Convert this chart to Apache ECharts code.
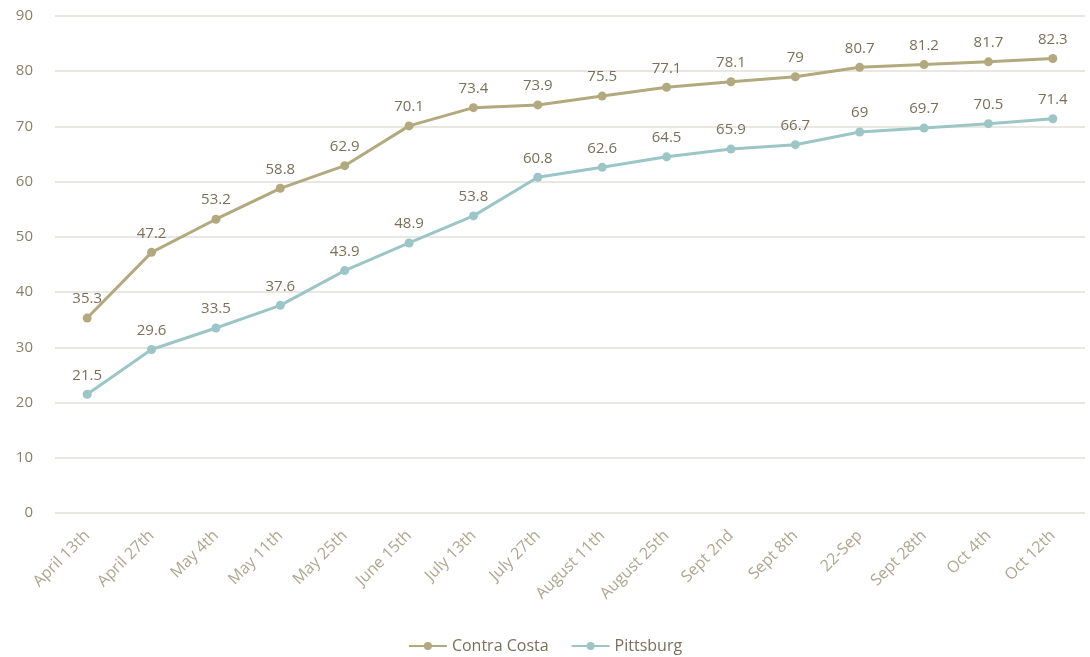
<!DOCTYPE html>
<html><head><meta charset="utf-8">
<script src="https://cdn.jsdelivr.net/npm/echarts@6/dist/echarts.min.js"></script>
<style>html,body{margin:0;padding:0;background:#fff}#c{width:1090px;height:657px}</style>
</head><body><div id="c"></div>
<script>
const categories = ["April 13th","April 27th","May 4th","May 11th","May 25th","June 15th","July 13th","July 27th","August 11th","August 25th","Sept 2nd","Sept 8th","22-Sep","Sept 28th","Oct 4th","Oct 12th"];
const contraCosta = [35.3,47.2,53.2,58.8,62.9,70.1,73.4,73.9,75.5,77.1,78.1,79,80.7,81.2,81.7,82.3];
const pittsburg = [21.5,29.6,33.5,37.6,43.9,48.9,53.8,60.8,62.6,64.5,65.9,66.7,69,69.7,70.5,71.4];
const yTicks = {min:0,max:90,interval:10};
const FONT = '"Open Sans", sans-serif';
const chart = echarts.init(document.getElementById('c'));
const lbl = {show:true,position:'top',distance:7,color:'#7a705a',fontSize:15,fontFamily:FONT};
chart.setOption({
  animation:false,
  grid:{left:55,right:5,top:16,bottom:144,containLabel:false},
  legend:{bottom:-2,left:'center',itemWidth:38,itemHeight:10,itemGap:22,
    textStyle:{color:'#7a705a',fontSize:16,fontFamily:FONT},
    data:['Contra Costa','Pittsburg']},
  xAxis:{type:'category',data:categories,boundaryGap:true,
    axisLine:{show:false},axisTick:{show:false},
    axisLabel:{rotate:45,color:'#aea690',fontSize:16,fontFamily:FONT,margin:20,interval:0}},
  yAxis:{type:'value',min:yTicks.min,max:yTicks.max,interval:yTicks.interval,
    axisLine:{show:false},axisTick:{show:false},
    axisLabel:{color:'#8a8068',fontSize:15,fontFamily:FONT,margin:22},
    splitLine:{lineStyle:{color:'#e2dfd8',width:1.5}}},
  series:[
    {name:'Contra Costa',type:'line',data:contraCosta,symbol:'circle',symbolSize:9,
      lineStyle:{color:'#b3a97e',width:3},itemStyle:{color:'#b3a97e'},label:lbl},
    {name:'Pittsburg',type:'line',data:pittsburg,symbol:'circle',symbolSize:9,
      lineStyle:{color:'#9cc6c6',width:3},itemStyle:{color:'#9cc6c6'},label:lbl}
  ]
});
</script></body></html>
